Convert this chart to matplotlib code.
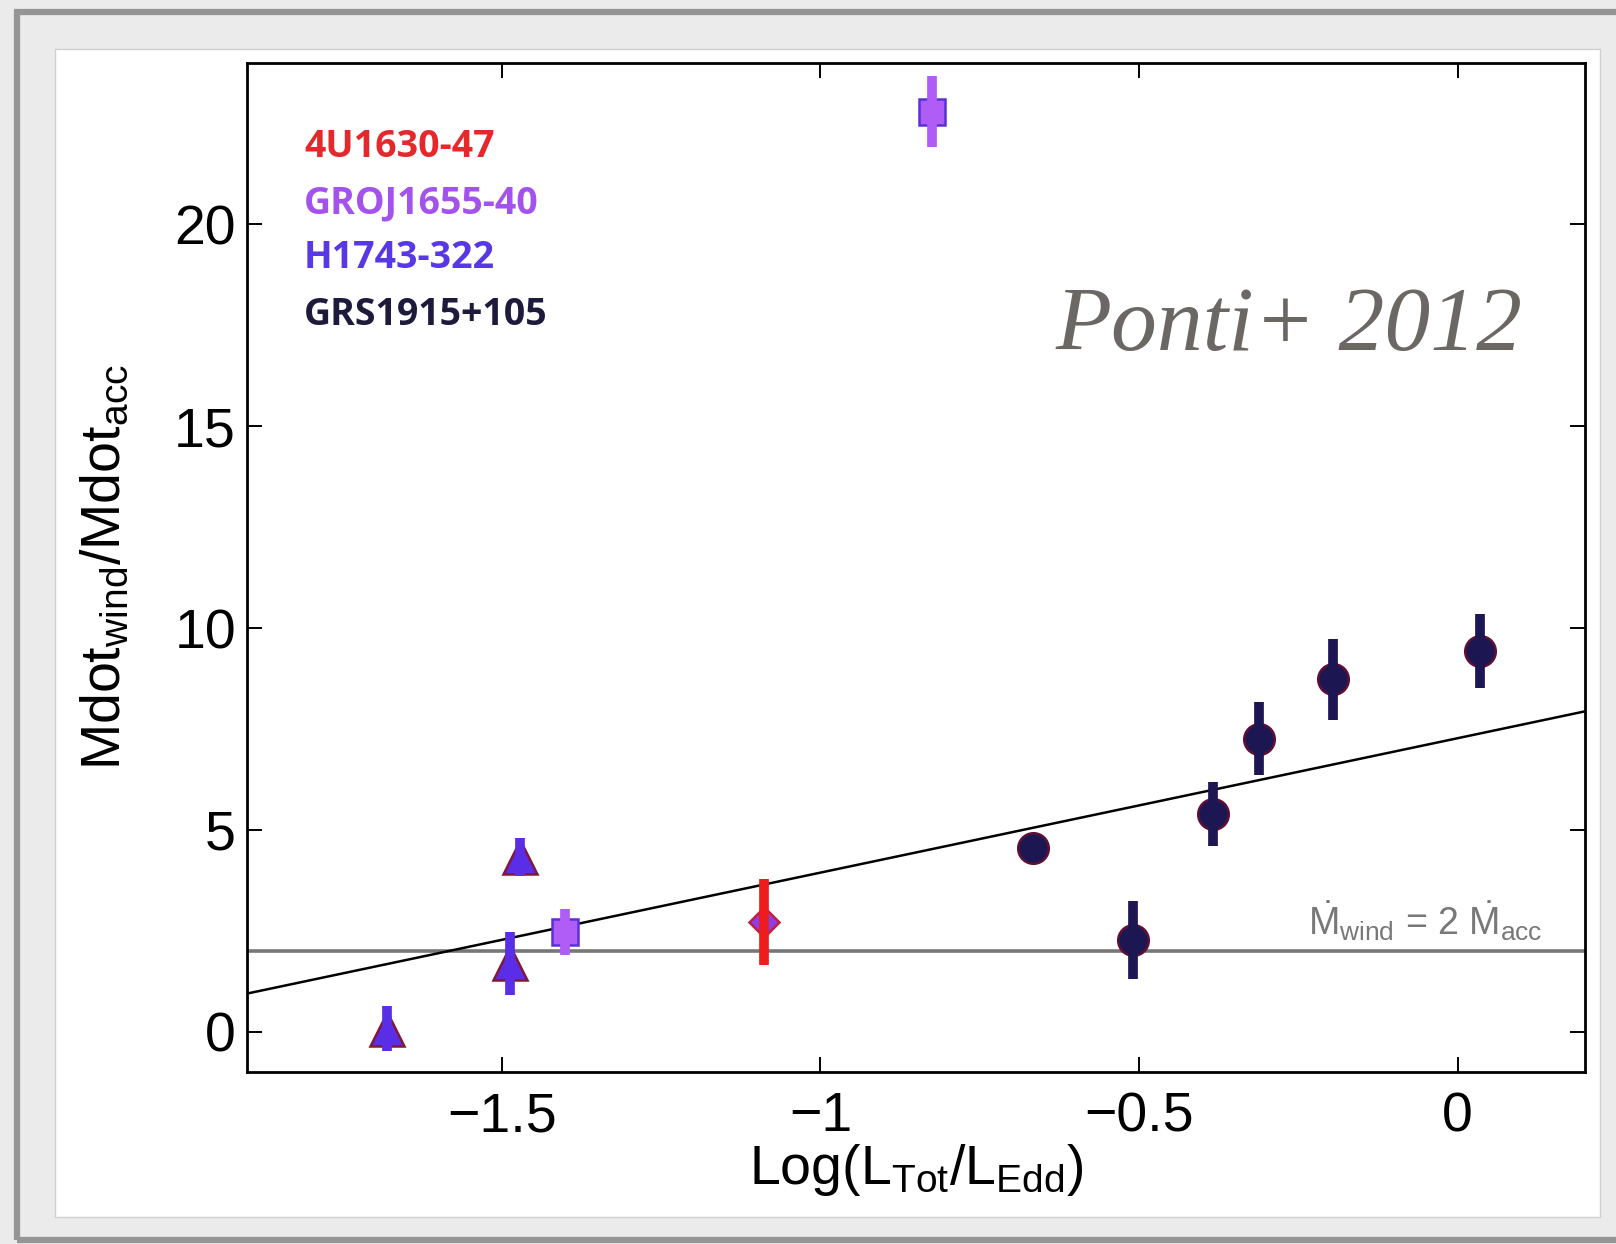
import matplotlib

matplotlib.use("Agg")
import matplotlib.pyplot as plt
from matplotlib.patches import Rectangle

# font setup (Helvetica-like axes, mathtext in the same family)
plt.rcParams["font.family"] = "Liberation Sans"
plt.rcParams["mathtext.fontset"] = "custom"
plt.rcParams["mathtext.rm"] = "Liberation Sans"
plt.rcParams["mathtext.it"] = "Liberation Sans:italic"
plt.rcParams["mathtext.bf"] = "Liberation Sans:bold"

# data: log(L/LEdd), Mdot_wind/Mdot_acc, error
x_4u1630 = [-1.089]
y_4u1630 = [2.72]
e_4u1630 = [1.07]

x_gro = [-1.401, -0.825]
y_gro = [2.46, 22.79]
e_gro = [0.57, 0.88]

x_h1743 = [-1.681, -1.471, -1.488]
y_h1743 = [0.07, 4.32, 1.70]
e_h1743 = [0.56, 0.47, 0.78]

x_grs = [-0.666, -0.510, -0.384, -0.312, -0.196, 0.035]
y_grs = [4.56, 2.27, 5.40, 7.26, 8.73, 9.44]
e_grs = [0.0, 0.96, 0.79, 0.91, 1.00, 0.92]

# linear fit and reference level
fit_slope = 3.33
fit_intercept = 7.27
ref_level = 2.0

x_lim = (-1.9, 0.2)
y_lim = (-1.0, 24.0)
x_ticks = [-1.5, -1.0, -0.5, 0.0]
x_tick_labels = ["\u22121.5", "\u22121", "\u22120.5", "0"]
y_ticks = [0, 5, 10, 15, 20]

legend_names = ["4U1630-47", "GROJ1655-40", "H1743-322", "GRS1915+105"]
legend_colors = ["#e4282c", "#a452ec", "#5838e6", "#1e1a3c"]

W, H = 1616, 1244
fig = plt.figure(figsize=(W / 100, H / 100), dpi=100, facecolor="#ebebeb")

# slide-like frame and white panel behind the plot
fig.add_artist(Rectangle((17 / W, 4 / H), 1.2, (1232 - 4) / H, transform=fig.transFigure,
                         facecolor="none", edgecolor="#959595", linewidth=4.5, zorder=-10))
fig.add_artist(Rectangle((55 / W, 27 / H), (1600 - 55) / W, (1217 - 49) / H,
                         transform=fig.transFigure, facecolor="white",
                         edgecolor="#d0d0d0", linewidth=1.0, zorder=-9))

ax = fig.add_axes([247 / W, (H - 1072) / H, (1585 - 247) / W, (1072 - 63) / H])
ax.set_facecolor("white")

# reference line and fit
ax.axhline(ref_level, color="#777777", linewidth=2.6, zorder=1)
ax.plot(list(x_lim), [fit_intercept + fit_slope * v for v in x_lim],
        color="black", linewidth=1.8, zorder=2)

# markers first, error bars on top (as in the original)
series = [
    (x_h1743, y_h1743, e_h1743, "^", 25, "#5a2ee6", "#80183a", "#5a2ee6"),
    (x_gro, y_gro, e_gro, "s", 18.5, "#b05cf6", "#5a30d8", "#b05cf6"),
    (x_4u1630, y_4u1630, e_4u1630, "D", 15.5, "#8d3ee6", "#c02040", "#ee1c1c"),
    (x_grs, y_grs, e_grs, "o", 22, "#1c1752", "#5e1034", "#1c1752"),
]
for xs, ys, es, mk, ms, fc, ec, bc in series:
    ax.plot(xs, ys, linestyle="none", marker=mk, markersize=ms,
            markerfacecolor=fc, markeredgecolor=ec, markeredgewidth=1.8, zorder=3)
    ax.errorbar(xs, ys, yerr=es, fmt="none", ecolor=bc, elinewidth=7,
                capsize=0, zorder=4)

ax.set_xlim(x_lim)
ax.set_ylim(y_lim)
ax.set_xticks(x_ticks)
ax.set_xticklabels(x_tick_labels)
ax.set_yticks(y_ticks)
ax.tick_params(direction="in", top=True, right=True, length=10.5, width=1.4,
               labelsize=40, colors="black")
ax.tick_params(axis="x", pad=14)
ax.tick_params(axis="y", pad=8)
for sp in ax.spines.values():
    sp.set_linewidth(2.0)

ax.set_xlabel(r"$\mathrm{Log(L_{Tot}/L_{Edd})}$", fontsize=40, labelpad=-1)
ax.set_ylabel(r"$\mathrm{Mdot_{wind}/Mdot_{acc}}$", fontsize=40, labelpad=30)

# source names in their colours
legend_y = [0.9068, 0.8513, 0.7968, 0.7403]
for name, col, yy in zip(legend_names, legend_colors, legend_y):
    ax.text(0.0426, yy, name, transform=ax.transAxes, color=col, fontsize=27,
            fontfamily="Open Sans", fontweight="bold", ha="left", va="baseline")

ax.text(0.6046, 0.7156, "Ponti+ 2012", transform=ax.transAxes, color="#6b6762",
        fontsize=66, fontfamily="Liberation Serif", fontstyle="italic",
        ha="left", va="baseline")

ax.text(0.793, 0.1358,
        r"$\dot{\mathrm{M}}_{\mathrm{wind}}$ = 2 $\dot{\mathrm{M}}_{\mathrm{acc}}$",
        transform=ax.transAxes, color="#787878", fontsize=27, ha="left", va="baseline")

fig.savefig("out.png", dpi=100, facecolor=fig.get_facecolor())
